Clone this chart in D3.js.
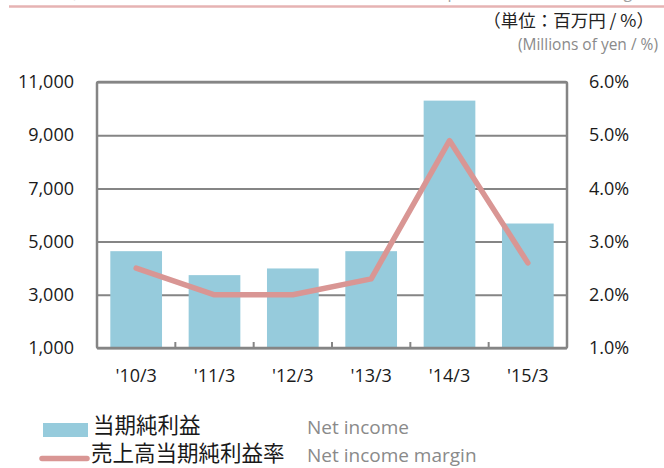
<!DOCTYPE html>
<html>
<head>
<meta charset="utf-8">
<script src="https://cdn.jsdelivr.net/npm/d3@7"></script>
<style>
  html, body { margin: 0; padding: 0; background: #fff; }
  svg { display: block; font-family: "Open Sans", "Noto Sans", "Noto Sans CJK JP", sans-serif; }
</style>
</head>
<body>
<div id="chart"></div>
<script>
const CATEGORIES = ["'10/3", "'11/3", "'12/3", "'13/3", "'14/3", "'15/3"];
const NET_INCOME = [4640, 3740, 3990, 4640, 10300, 5680];
const MARGIN = [2.5, 2.0, 2.0, 2.3, 4.9, 2.6];
const LEFT_TICKS = [1000, 3000, 5000, 7000, 9000, 11000];
const RIGHT_TICKS = [1, 2, 3, 4, 5, 6];

const W = 664, H = 468;
const margin = { top: 82, right: 97, bottom: 120, left: 97 };
const chartW = W - margin.left - margin.right;
const chartH = H - margin.top - margin.bottom;

const FONT = '"Open Sans", "Noto Sans", sans-serif';
const CJK_FONT = '"Noto Sans CJK JP", "Noto Sans", sans-serif';
const BAR_COLOR = '#96cbdc';
const LINE_COLOR = '#d99694';
const GRID_COLOR = '#858585';

const svg = d3.select('#chart').append('svg')
  .attr('width', W).attr('height', H);

// header (cut off at the top of the picture, as in the source)
svg.append('text')
  .attr('x', 646).attr('y', -2)
  .attr('text-anchor', 'end')
  .style('font-size', '16px').style('fill', '#a0a0a0')
  .text('当期純利益／売上高当期純利益率 Net income attributable to owners of the parent, net income margin');
svg.append('line')
  .attr('x1', 9).attr('x2', W).attr('y1', 6.5).attr('y2', 6.5)
  .attr('stroke', '#e6b3b3').attr('stroke-width', 2.5);

svg.append('text')
  .attr('x', 654).attr('y', 27)
  .attr('text-anchor', 'end')
  .style('font-family', CJK_FONT)
  .style('font-size', '17.5px').style('fill', '#222')
  .text('（単位：百万円 / %）');
svg.append('text')
  .attr('x', 658).attr('y', 50)
  .attr('text-anchor', 'end')
  .style('font-size', '15.5px').style('fill', '#8a8a8a')
  .text('(Millions of yen / %)');

const g = svg.append('g').attr('transform', `translate(${margin.left},${margin.top})`);

const x = d3.scaleBand().domain(CATEGORIES).range([0, chartW]).paddingInner(0.34).paddingOuter(0.17);
const yL = d3.scaleLinear().domain([1000, 11000]).range([chartH, 0]);
const yR = d3.scaleLinear().domain([1, 6]).range([chartH, 0]);

// grid
g.append('g')
  .call(d3.axisLeft(yL).tickValues(LEFT_TICKS).tickSize(-chartW).tickFormat(''))
  .call(s => s.select('.domain').remove())
  .selectAll('line').attr('stroke', GRID_COLOR).attr('stroke-width', 2);

// bars
g.selectAll('.bar').data(CATEGORIES).enter().append('rect')
  .attr('class', 'bar')
  .attr('x', d => x(d))
  .attr('y', (d, i) => yL(NET_INCOME[i]))
  .attr('width', x.bandwidth())
  .attr('height', (d, i) => chartH - yL(NET_INCOME[i]))
  .attr('fill', BAR_COLOR);

// frame
g.append('rect')
  .attr('x', 0).attr('y', 0).attr('width', chartW).attr('height', chartH)
  .attr('fill', 'none').attr('stroke', GRID_COLOR).attr('stroke-width', 2.5)
  .attr('rx', 1.5);

// category separator ticks (inside, from the bottom)
const step = x.step();
g.selectAll('.sep').data(CATEGORIES.slice(1)).enter().append('line')
  .attr('x1', d => x(d) - step * x.paddingInner() / 2)
  .attr('x2', d => x(d) - step * x.paddingInner() / 2)
  .attr('y1', chartH).attr('y2', chartH - 6)
  .attr('stroke', GRID_COLOR).attr('stroke-width', 2);

// margin line
const line = d3.line()
  .x((d, i) => x(CATEGORIES[i]) + x.bandwidth() / 2)
  .y(d => yR(d));
g.append('path').datum(MARGIN)
  .attr('d', line)
  .attr('fill', 'none').attr('stroke', LINE_COLOR)
  .attr('stroke-width', 5.5).attr('stroke-linecap', 'round').attr('stroke-linejoin', 'round');

// axis labels
const styleAxis = s => {
  s.attr('font-family', FONT).attr('font-size', 18);
  s.select('.domain').remove();
  s.selectAll('text').attr('fill', '#1a1a1a');
};

g.append('g')
  .call(d3.axisLeft(yL).tickValues(LEFT_TICKS).tickSize(0).tickPadding(23).tickFormat(d3.format(',')))
  .call(styleAxis);

g.append('g').attr('transform', `translate(${chartW},0)`)
  .call(d3.axisRight(yR).tickValues(RIGHT_TICKS).tickSize(0).tickPadding(22).tickFormat(d => d.toFixed(1) + '%'))
  .call(styleAxis);

g.append('g').attr('transform', `translate(0,${chartH})`)
  .call(d3.axisBottom(x).tickSize(0).tickPadding(21))
  .call(styleAxis);

// legend
const lg = svg.append('g');
lg.append('rect').attr('x', 43).attr('y', 423).attr('width', 45).attr('height', 14).attr('fill', BAR_COLOR);
lg.append('text').attr('x', 93).attr('y', 433)
  .style('font-family', CJK_FONT)
  .style('font-size', '21.5px').style('fill', '#1a1a1a').text('当期純利益');
lg.append('text').attr('x', 307).attr('y', 434)
  .style('font-size', '19px').style('fill', '#8a8a8a').text('Net income');

lg.append('line').attr('x1', 42).attr('x2', 87).attr('y1', 458.5).attr('y2', 458.5)
  .attr('stroke', LINE_COLOR).attr('stroke-width', 5.5).attr('stroke-linecap', 'round');
lg.append('text').attr('x', 91).attr('y', 461)
  .style('font-family', CJK_FONT)
  .style('font-size', '21.5px').style('fill', '#1a1a1a').text('売上高当期純利益率');
lg.append('text').attr('x', 307).attr('y', 462)
  .style('font-size', '19px').style('fill', '#8a8a8a').text('Net income margin');
</script>
</body>
</html>
